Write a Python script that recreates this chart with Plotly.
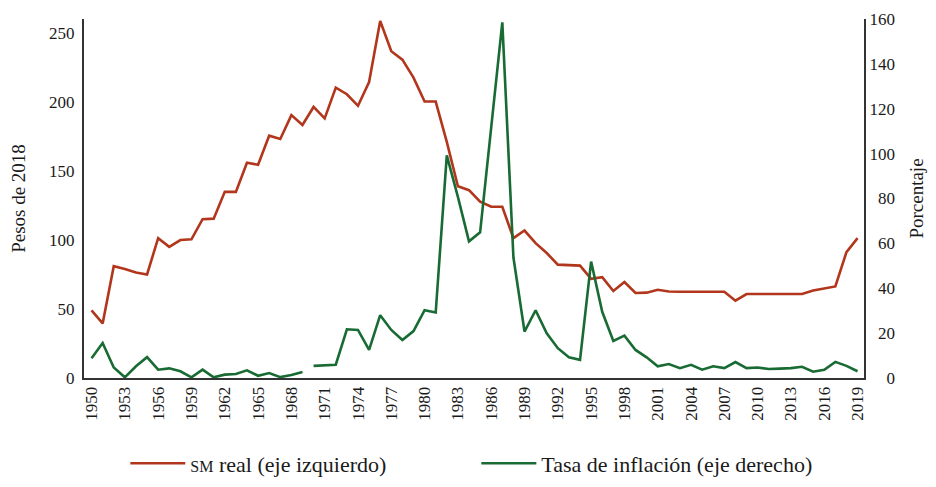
import plotly.graph_objects as go

# ---- data ----
years = list(range(1950, 2020))
salario_real = [
    49, 39.5, 81, 79, 76.4, 75, 101.3, 95, 99.9, 100.4,
    115, 115.4, 134.8, 134.8, 155.9, 154.5, 175.5, 173.1, 190.4, 183.2,
    196.3, 188, 210.3, 205.5, 197.1, 214.3, 258.6, 236.6, 230.6, 217.5,
    200.2, 200.2, 171, 138.9, 136, 127.7, 124, 124, 101.3, 106.8,
    97.7, 90.5, 82.1, 81.7, 81.4, 71.8, 73, 63, 69.5, 61.6,
    61.8, 63.9, 62.7, 62.5, 62.4, 62.4, 62.5, 62.5, 56, 60.8,
    60.8, 60.8, 60.8, 60.8, 60.8, 63.4, 64.9, 66.3, 91.2, 101.3,
]
years_infl_a = list(range(1950, 1970))
inflacion_a = [8.8, 15.6, 4.7, 0.3, 5.2, 9.3, 3.7, 4.3, 3.0, 0.3,
               3.7, 0.3, 1.5, 1.8, 3.4, 1.0, 2.2, 0.4, 1.3, 2.7]
years_infl_b = list(range(1970, 2020))
inflacion_b = [5.4, 5.8, 5.9, 21.7, 21.4, 12.5, 28.0, 21.4, 16.9, 20.9,
               30.2, 29.2, 99.2, 80.7, 60.9, 64.9, 112, 158.5, 53.8, 20.7,
               30.2, 19.9, 13.3, 9.2, 8.1, 51.9, 29.5, 16.5, 18.9, 12.5,
               9.2, 5.2, 6.2, 4.4, 5.9, 3.7, 5.2, 4.4, 7.1, 4.4,
               4.7, 4.0, 4.2, 4.4, 5.0, 2.8, 3.7, 7.2, 5.4, 3.0]
xtick_years = list(range(1950, 2020, 3))
left_ticks = [0, 50, 100, 150, 200, 250]
right_ticks = [0, 20, 40, 60, 80, 100, 120, 140, 160]

RED = "#B2361C"
GREEN = "#186B33"
FONT = "Liberation Serif"
TXT = "#1a1a1a"

fig = go.Figure()
fig.add_trace(go.Scatter(
    x=years, y=salario_real, mode="lines",
    line=dict(color=RED, width=2.6),
    name="<span style='font-size:16px'>SM</span> real (eje izquierdo)",
    yaxis="y",
))
fig.add_trace(go.Scatter(
    x=years_infl_a, y=inflacion_a, mode="lines",
    line=dict(color=GREEN, width=2.6),
    name="Tasa de inflación (eje derecho)",
    legendgroup="infl", yaxis="y2",
))
fig.add_trace(go.Scatter(
    x=years_infl_b, y=inflacion_b, mode="lines",
    line=dict(color=GREEN, width=2.6),
    name="Tasa de inflación (eje derecho)",
    legendgroup="infl", showlegend=False, yaxis="y2",
))

fs = "\u2007"
right_text = [(fs * (3 - len(str(v)))) + str(v) for v in right_ticks]

# page body adds an 8px offset, so the figure is sized to fit the window
fig.update_layout(
    width=920, height=471,
    margin=dict(l=76, r=64, t=11, b=101, autoexpand=False),
    paper_bgcolor="white", plot_bgcolor="white",
    font=dict(family=FONT, size=17, color=TXT),
    showlegend=True,
    legend=dict(
        orientation="h", x=0.053, xanchor="left", y=-0.238, yanchor="middle",
        font=dict(family=FONT, size=22, color=TXT),
        itemwidth=55,
        entrywidth=281, entrywidthmode="pixels",
        bgcolor="rgba(0,0,0,0)",
    ),
    xaxis=dict(
        range=[1949.32, 2019.58], automargin=False,
        tickmode="array", tickvals=xtick_years,
        ticktext=[str(y) for y in xtick_years],
        tickangle=-90, ticks="", showgrid=False, zeroline=False,
        showline=True, linecolor="#333", linewidth=2,
        tickfont=dict(family=FONT, size=17, color=TXT),
    ),
    yaxis=dict(
        range=[0, 260], tickmode="array", tickvals=left_ticks, automargin=False,
        ticks="", showgrid=False, zeroline=False,
        showline=True, linecolor="#333", linewidth=2,
        ticklabelstandoff=4,
        title=dict(text="Pesos de 2018", font=dict(family=FONT, size=19, color=TXT), standoff=20),
        tickfont=dict(family=FONT, size=17, color=TXT),
    ),
    yaxis2=dict(
        range=[0, 160], overlaying="y", side="right", automargin=False,
        tickmode="array", tickvals=right_ticks, ticktext=right_text,
        ticks="", showgrid=False, zeroline=False,
        showline=True, linecolor="#333", linewidth=2,
        title=dict(text="Porcentaje", font=dict(family=FONT, size=19, color=TXT), standoff=16),
        tickfont=dict(family=FONT, size=17, color=TXT),
    ),
)

fig.write_html("out.html")
